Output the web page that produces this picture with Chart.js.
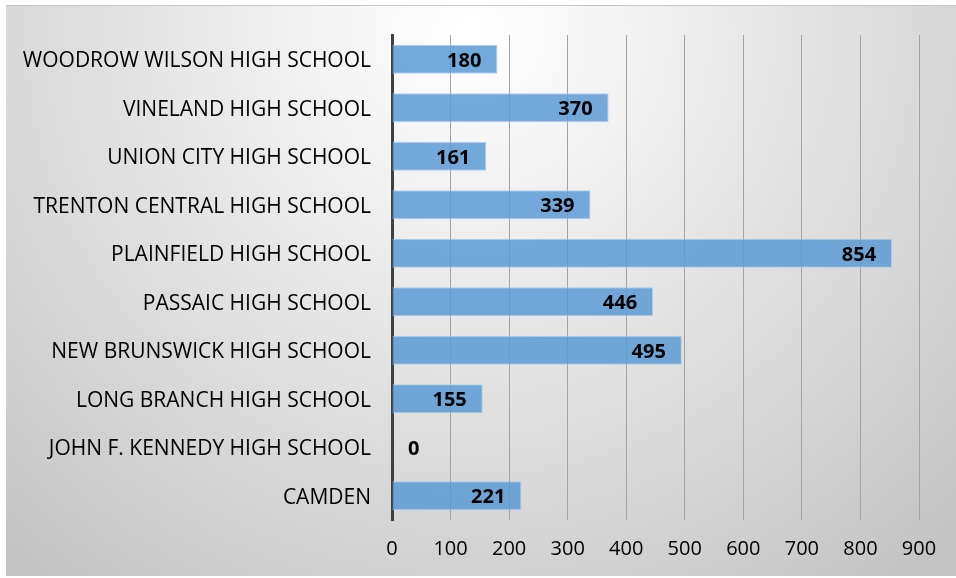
<!DOCTYPE html>
<html>
<head>
<meta charset="utf-8">
<title>Students by high school</title>
<script src="https://cdn.jsdelivr.net/npm/chart.js@4/dist/chart.umd.min.js"></script>
<style>
  html, body { margin: 0; padding: 0; background: #fff; }
  #wrap { width: 956px; height: 578px; position: relative; }
</style>
</head>
<body>
<div id="wrap"><canvas id="chart" width="956" height="578"></canvas></div>
<script>
/* global Chart */

const schools = [
  'WOODROW WILSON HIGH SCHOOL',
  'VINELAND HIGH SCHOOL',
  'UNION CITY HIGH SCHOOL',
  'TRENTON CENTRAL HIGH SCHOOL',
  'PLAINFIELD HIGH SCHOOL',
  'PASSAIC HIGH SCHOOL',
  'NEW BRUNSWICK HIGH SCHOOL',
  'LONG BRANCH HIGH SCHOOL',
  'JOHN F. KENNEDY HIGH SCHOOL',
  'CAMDEN',
];
const students = [180, 370, 161, 339, 854, 446, 495, 155, 0, 221];
const axisTicks = [0, 100, 200, 300, 400, 500, 600, 700, 800, 900];

(function () {
  const font = '"Open Sans", "DejaVu Sans", sans-serif';

  // Grey panel with a light spot near the top, like the office chart style.
  const panelBackground = {
    id: 'panelBackground',
    beforeDraw(chart) {
      const ctx = chart.ctx;
      ctx.save();
      ctx.fillStyle = '#ffffff';
      ctx.fillRect(0, 0, chart.width, chart.height);
      const g = ctx.createRadialGradient(470, 30, 10, 470, 30, 720);
      g.addColorStop(0, '#ffffff');
      g.addColorStop(0.45, '#e4e4e4');
      g.addColorStop(1, '#c2c2c2');
      ctx.fillStyle = g;
      ctx.fillRect(6, 5, chart.width - 6, 571);
      ctx.fillStyle = '#c8c8c8';
      ctx.fillRect(6, 5, chart.width - 6, 1);
      ctx.restore();
    },
  };

  // Values written inside the end of each bar (after it, when the bar is empty).
  const barValues = {
    id: 'barValues',
    afterDatasetsDraw(chart) {
      const ctx = chart.ctx;
      const meta = chart.getDatasetMeta(0);
      ctx.save();
      ctx.font = 'bold 20px ' + font;
      ctx.fillStyle = '#000';
      ctx.textBaseline = 'middle';
      meta.data.forEach((bar, i) => {
        const v = chart.data.datasets[0].data[i];
        if (v === 0) {
          ctx.textAlign = 'left';
          ctx.fillText(String(v), bar.base + 16, bar.y + 2);
        } else {
          ctx.textAlign = 'right';
          ctx.fillText(String(v), bar.x - 16, bar.y + 2);
        }
      });
      ctx.restore();
    },
  };

  new Chart(document.getElementById('chart'), {
    type: 'bar',
    data: {
      labels: schools,
      datasets: [{
        data: students,
        backgroundColor: 'rgba(91, 155, 213, 0.85)',
        borderColor: 'rgba(170, 205, 236, 0.9)',
        borderWidth: 1,
        barPercentage: 0.6,
        categoryPercentage: 1,
      }],
    },
    options: {
      indexAxis: 'y',
      responsive: false,
      animation: false,
      layout: { padding: { left: 0, right: 37, top: 35, bottom: 0 } },
      plugins: {
        legend: { display: false },
        tooltip: { enabled: false },
      },
      scales: {
        x: {
          min: 0,
          max: 900,
          afterBuildTicks(scale) {
            scale.ticks = axisTicks.map((v) => ({ value: v }));
          },
          afterFit(scale) {
            scale.height = 58;
          },
          grid: { color: '#a3a3a3', lineWidth: 1, drawTicks: false },
          border: { display: false },
          ticks: {
            padding: 17,
            color: '#000',
            font: { family: font, size: 20 },
          },
        },
        y: {
          afterFit(scale) {
            scale.width = 392;
          },
          grid: { display: false, drawTicks: false },
          border: { display: true, color: '#404040', width: 3 },
          ticks: {
            padding: 21,
            labelOffset: 2,
            color: '#000',
            font: { family: font, size: 21 },
          },
        },
      },
    },
    plugins: [panelBackground, barValues],
  });
})();
</script>
</body>
</html>
